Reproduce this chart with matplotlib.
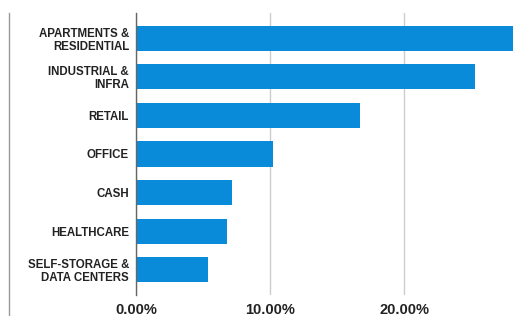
import matplotlib
matplotlib.use("Agg")
import matplotlib.pyplot as plt
from matplotlib.lines import Line2D
from matplotlib.ticker import FuncFormatter

categories = ["APARTMENTS &\nRESIDENTIAL", "INDUSTRIAL &\nINFRA", "RETAIL", "OFFICE",
              "CASH", "HEALTHCARE", "SELF-STORAGE &\nDATA CENTERS"]
values = [29.0, 25.3, 16.7, 10.2, 7.2, 6.8, 5.4]
xticks = [0, 10, 20]

plt.rcParams['font.family'] = ['Liberation Sans', 'DejaVu Sans']

fig = plt.figure(figsize=(5.13, 3.16), dpi=100)
ax = fig.add_axes([136/513, 1-295/316, 1-136/513, (295-13)/316])

ypos = list(range(len(categories)))
ax.barh(ypos, values, height=0.65, color="#0a8bd9", zorder=3)
ax.set_ylim(len(categories)-1+0.66, -0.66)
ax.set_xlim(0, 28.13)
ax.set_xticks(xticks)
ax.xaxis.set_major_formatter(FuncFormatter(lambda v, p: f"{v:.2f}%"))
ax.set_yticks(ypos)
ax.set_yticklabels(categories, fontsize=8.3, fontweight='bold', color="#222222", linespacing=1.1)
for lab in ax.get_xticklabels():
    lab.set_fontsize(10.5)
    lab.set_fontweight('bold')
    lab.set_color("#222222")
ax.tick_params(axis='x', length=0, pad=6)
ax.tick_params(axis='y', length=0, pad=5)
ax.grid(axis='x', color="#cccccc", linewidth=1, zorder=0)
for s in ['top', 'right', 'bottom']:
    ax.spines[s].set_visible(False)
ax.spines['left'].set_color("#666666")
ax.spines['left'].set_linewidth(1)
ax.spines['left'].set_zorder(4)

fig.add_artist(Line2D([9/513, 9/513], [0, 1-13/316], color="#999999", linewidth=1))

fig.savefig("out.png", dpi=100)
